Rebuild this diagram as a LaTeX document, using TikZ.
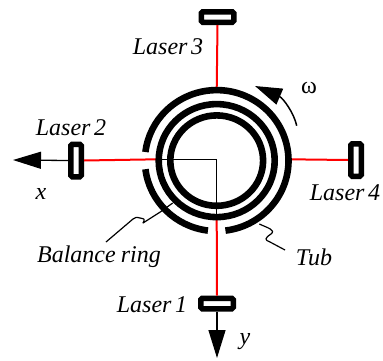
\documentclass[tikz,border=0pt]{standalone}
\usepackage{fontspec}
\setmainfont[WordSpace=0.6]{Liberation Serif}
\usetikzlibrary{arrows.meta}
\begin{document}
\begin{tikzpicture}[x=1pt,y=1pt,
  hlaser/.style={draw=black,line width=5.5pt,rounded corners=1.5pt,fill=white,minimum width=32.5pt,minimum height=10.5pt,inner sep=0pt},
  vlaser/.style={draw=black,line width=5.5pt,rounded corners=1.5pt,fill=white,minimum width=10.5pt,minimum height=32.5pt,inner sep=0pt},
  lab/.style={font=\fontsize{24}{26}\selectfont\itshape,inner sep=0pt},
  beam/.style={draw=red,line width=2pt},
  axisline/.style={draw=black,line width=1.3pt},
  ring/.style={draw=black,line width=6.6pt},
  lead/.style={draw=black,line width=1.2pt,line join=round},
  bigtip/.style={-{Triangle[length=28pt,width=17pt]}}
]
\useasboundingbox (0,0) rectangle (383,360);
\coordinate (c) at (216.7,200.7);
\coordinate (rc) at (216.7,199.4);
\coordinate (xtip) at (13,200);
\coordinate (ytip) at (217,2);
\coordinate (w2) at (157.5,200.7);
\coordinate (w4) at (289,200.7);
\coordinate (n3) at (216.7,270);
\coordinate (s1) at (216.7,141);
% lasers and beams
\node[hlaser] (laser1) at (217,56.5) {};
\node[hlaser] (laser3) at (217.5,343) {};
\node[vlaser] (laser2) at (76,199.5) {};
\node[vlaser] (laser4) at (356,200) {};
\draw[beam] (laser2.east) -- (w2);
\draw[beam] (laser4.west) -- (w4);
\draw[beam] (laser3.south) -- (n3);
\draw[beam] (laser1.north) -- (s1);
% axes
\draw[axisline] (w2) -- (c) -- (s1);
\draw[axisline,bigtip] (laser2.west) -- (xtip);
\draw[axisline,bigtip] (laser1.south) -- (ytip);
% rings
\draw[ring] (rc) circle[x radius=46.4,y radius=45.2];
\draw[ring] (rc) circle[x radius=58,y radius=56.5];
\draw[ring] ([shift={(187:71.8 and 70.5)}]rc) arc[start angle=187,end angle=263,x radius=71.8,y radius=70.5];
\draw[ring] ([shift={(277:71.8 and 70.5)}]rc) arc[start angle=277,end angle=533,x radius=71.8,y radius=70.5];
% rotation
\coordinate (wstart) at (296.7,234.3);
\coordinate (wtip) at (255,274);
\draw[draw=black,line width=1.5pt,-{Triangle[length=27pt,width=17pt]}] (wstart) .. controls (294,247) and (283,262) .. (wtip);
% leaders
\coordinate (b0) at (172.7,157);
\coordinate (b1) at (106,118);
\coordinate (t0) at (259.3,136);
\coordinate (t1) at (285,110);
\draw[lead] (b0) -- (160.7,148.3) .. controls (152,142) .. (143,137) .. controls (145,141) .. (140,142) .. controls (136,143) .. (133,141) -- (b1);
\draw[lead] (t0) .. controls (268,132) and (276,130) .. (271,126) .. controls (265,122) and (264,120) .. (270,118) -- (t1);
% labels
\node[lab] (l1) at (152,55) {Laser 1};
\node[lab] (l2) at (71,232) {Laser 2};
\node[lab] (l3) at (168,313) {Laser 3};
\node[lab] (l4) at (345,167) {Laser 4};
\node[lab] (lx) at (41,166) {x};
\node[lab] (ly) at (245,18) {y};
\node[lab] (lb) at (99,103) {Balance\hspace{1.5pt} ring};
\node[lab] (lt) at (314,103) {Tub};
\node[lab,font=\fontsize{24}{26}\selectfont\upshape] (lw) at (309,272) {ω};
\end{tikzpicture}
\end{document}
